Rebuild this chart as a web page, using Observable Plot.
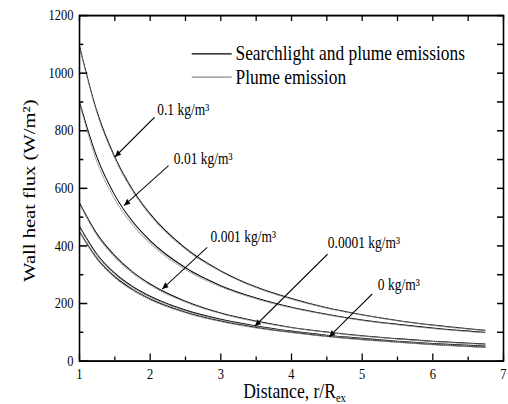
<!DOCTYPE html>
<html><head><meta charset="utf-8">
<script src="https://cdn.jsdelivr.net/npm/d3@7"></script>
<script src="https://cdn.jsdelivr.net/npm/@observablehq/plot@0.6"></script>
<style>
html,body{margin:0;padding:0;background:#fff;}
#chart{width:508px;height:404px;overflow:hidden}
#chart svg, #chart svg text, #chart svg tspan{font-family:"Liberation Serif","Times New Roman",serif !important;}
</style>
</head><body><div id="chart"></div>
<script>
// ---- data ----
const distance = [1, 1.25, 1.5, 1.75, 2, 2.5, 3, 3.5, 4, 4.5, 5, 5.5, 6, 6.74];
const seriesNames = ["0.1", "0.01", "0.001", "0.0001", "0"];
// Searchlight and plume emissions (solid)
const both_0_1    = [1095, 865, 709, 596, 511, 392, 313, 257, 217, 185, 161, 141, 125, 107];
const both_0_01   = [900, 706, 576, 485, 418, 324, 262, 219, 187, 163, 143, 128, 115, 100];
const both_0_001  = [550, 441, 366, 310, 268, 208, 167, 139, 117, 101, 88, 78, 69, 59];
const both_0_0001 = [468, 370, 305, 259, 225, 177, 145, 122, 104, 90, 79, 69, 61, 52];
const both_0      = [450, 356, 293, 249, 216, 170, 139, 117, 100, 86, 75, 66, 58, 48];
// Plume emission only (dotted)
const plume_0_1    = [1090, 860, 704, 591, 507, 389, 311, 255, 215, 184, 160, 140, 124, 106];
const plume_0_01   = [895, 690, 562, 474, 409, 318, 258, 216, 185, 161, 141, 126, 113, 98];
const plume_0_001  = [545, 436, 361, 306, 264, 205, 165, 137, 116, 100, 87, 77, 68, 58];
const plume_0_0001 = [465, 367, 302, 256, 222, 175, 143, 120, 103, 89, 78, 68, 60, 51];
const plume_0      = [447, 353, 290, 246, 213, 168, 137, 115, 99, 85, 74, 65, 57, 47];

const xMajor = [1, 2, 3, 4, 5, 6, 7];
const xMinor = [1.5, 2.5, 3.5, 4.5, 5.5, 6.5];
const yMajor = [0, 200, 400, 600, 800, 1000, 1200];
const yMinor = [100, 300, 500, 700, 900, 1100];

const annoLabel = ["0.1 kg/m³", "0.01 kg/m³", "0.001 kg/m³", "0.0001 kg/m³", "0 kg/m³"];
const annoTextX = [2.10, 2.335, 2.854, 4.514, 5.221];
const annoTextY = [871, 703, 432, 412, 265];
const annoFromX = [2.062, 2.26, 2.807, 4.51, 5.142];
const annoFromY = [847, 679, 395, 371, 233];
const annoTipX  = [1.5, 1.63, 2.17, 3.48, 4.53];
const annoTipY  = [709, 540, 250, 121, 84];

const legendLabels = ["Searchlight and plume emissions", "Plume emission"];
const legendX1 = 2.595, legendX2 = 3.161, legendTextX = 3.207;
const legendY = [1067, 986];

// ---- tables ----
const bothSets = [both_0_1, both_0_01, both_0_001, both_0_0001, both_0];
const plumeSets = [plume_0_1, plume_0_01, plume_0_001, plume_0_0001, plume_0];
const solidRows = [], plumeRows = [];
seriesNames.forEach((s, k) => {
  distance.forEach((d, i) => {
    solidRows.push({series: s, x: d, y: bothSets[k][i]});
    plumeRows.push({series: s, x: d, y: plumeSets[k][i]});
  });
});
const annos = annoLabel.map((t, i) => ({t, tx: annoTextX[i], ty: annoTextY[i], fx: annoFromX[i], fy: annoFromY[i], px: annoTipX[i], py: annoTipY[i]}));
const legend = legendLabels.map((t, i) => ({t, y: legendY[i], dash: i === 1}));

// ---- plot (drawn in a squeezed space, then stretched vertically like the original) ----
const W = 508, H = 345, K = 404 / H;
const serif = "Liberation Serif";
const plot = Plot.plot({
  width: W, height: H,
  marginLeft: 79, marginRight: 5, marginTop: 15 / K, marginBottom: 43.5 / K,
  x: {domain: [1, 7]},
  y: {domain: [0, 1200]},
  style: {fontFamily: serif, color: "black", background: "white", overflow: "visible"},
  marks: [
    Plot.line(solidRows, {x: "x", y: "y", z: "series", stroke: "black", strokeWidth: 0.9, curve: "monotone-x"}),
    Plot.line(plumeRows, {x: "x", y: "y", z: "series", stroke: "#8a8a8a", strokeWidth: 0.9, strokeDasharray: "1,1.3", curve: "monotone-x"}),
    Plot.frame({stroke: "black", strokeWidth: 1.6}),
    // ticks (inward)
    Plot.ruleX(xMajor, {x: d => d, y1: 0, y2: 0, insetTop: 0, insetBottom: 6, strokeWidth: 1.3}),
    Plot.ruleX(xMinor, {x: d => d, y1: 0, y2: 0, insetTop: 0, insetBottom: 3.4, strokeWidth: 1.3}),
    Plot.ruleX(xMajor.concat(xMinor), {x: d => d, y1: 1200, y2: 1200, insetTop: 5.2, insetBottom: 0, strokeWidth: 1.3}),
    Plot.ruleY(yMajor, {y: d => d, x1: 1, x2: 1, insetLeft: 8.3, insetRight: 0, strokeWidth: 1.3}),
    Plot.ruleY(yMinor, {y: d => d, x1: 1, x2: 1, insetLeft: 4.3, insetRight: 0, strokeWidth: 1.3}),
    Plot.ruleY(yMajor.concat(yMinor), {y: d => d, x1: 7, x2: 7, insetLeft: 0, insetRight: 6, strokeWidth: 1.3}),
    Plot.axisX(xMajor, {tickSize: 0, tickPadding: 6, fontSize: 12.5, fontFamily: serif, label: null, tickFormat: d => String(d)}),
    Plot.axisY(yMajor, {tickSize: 0, tickPadding: 6, fontSize: 12.5, fontFamily: serif, label: null, tickFormat: d => String(d)}),
    // axis titles
    Plot.text(["Wall heat flux (W/m²)"], {text: d => d, frameAnchor: "left", textAnchor: "middle", lineAnchor: "middle", rotate: -90, dx: -50, dy: 2, fontSize: 17.6, fontFamily: serif, fill: "black"}),
    Plot.text(["Distance, r/R"], {text: d => d, frameAnchor: "bottom", textAnchor: "middle", lineAnchor: "middle", dx: 3, dy: 26, fontSize: 17.6, fontFamily: serif, fill: "black"}),
    // legend
    Plot.ruleY(legend, {y: "y", x1: legendX1, x2: legendX2, stroke: d => d.dash ? "#8a8a8a" : "black", strokeDasharray: d => d.dash ? "1,1.3" : null, strokeWidth: 1}),
    Plot.text(legend, {x: legendTextX, y: "y", text: "t", textAnchor: "start", lineAnchor: "middle", fontSize: 17.4, fontFamily: serif, fill: "black"}),
    // annotations
    Plot.link(annos, {x1: "fx", y1: "fy", x2: "px", y2: "py", stroke: "black", strokeWidth: 1}),
    Plot.text(annos, {x: "tx", y: "ty", text: "t", textAnchor: "start", lineAnchor: "middle", fontSize: 13.5, fontFamily: serif, fill: "black"})
  ]
});

// stretch vertically
plot.setAttribute("viewBox", `0 0 ${W} ${H}`);
plot.setAttribute("preserveAspectRatio", "none");
plot.setAttribute("width", W);
plot.setAttribute("height", 404);
plot.style.width = W + "px";
plot.style.height = "404px";
plot.style.maxWidth = "none";

// arrowheads
const ns = "http://www.w3.org/2000/svg";
const defs = document.createElementNS(ns, "defs");
defs.innerHTML = '<marker id="ah" viewBox="0 0 10 10" refX="10" refY="5" markerWidth="8" markerHeight="6" orient="auto" markerUnits="userSpaceOnUse"><path d="M0,0.5L10,5L0,9.5Z" fill="black"/></marker>';
plot.insertBefore(defs, plot.firstChild);
plot.querySelectorAll('g[aria-label="link"] path').forEach(p => p.setAttribute("marker-end", "url(#ah)"));

// subscript on x title
plot.querySelectorAll("text").forEach(t => {
  if (t.textContent === "Distance, r/R") {
    const ts = document.createElementNS(ns, "tspan");
    ts.setAttribute("font-size", "10.5");
    ts.setAttribute("dy", "3.5");
    ts.textContent = "ex";
    t.appendChild(ts);
  }
});

document.getElementById("chart").appendChild(plot);
</script>
</body></html>
